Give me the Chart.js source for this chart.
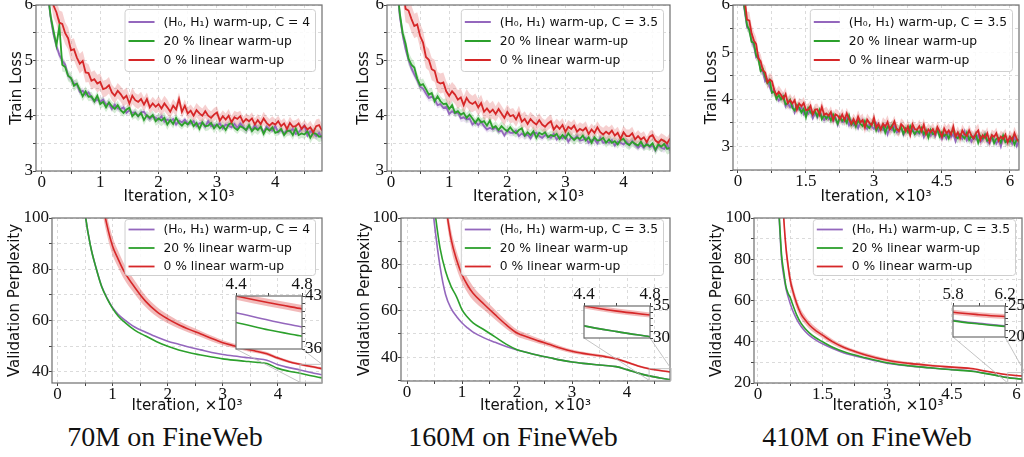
<!DOCTYPE html>
<html>
<head>
<meta charset="utf-8">
<title>Warm-up comparison on FineWeb</title>
<script src="https://cdn.jsdelivr.net/npm/chart.js@4.4.1/dist/chart.umd.min.js"></script>
<style>
  html, body { margin: 0; padding: 0; background: #fff; }
  body { position: relative; width: 1024px; height: 457px; overflow: hidden; }
  .panel { position: absolute; }
  .panel canvas { display: block; }
  .caption { position: absolute; top: 421px; width: 300px; text-align: center;
             font-family: "Liberation Serif", "Times New Roman", serif; font-size: 28px; line-height: 32px; color: #111; }
</style>
</head>
<body>
<div class="caption" style="left:15px">70M on FineWeb</div>
<div class="caption" style="left:363px">160M on FineWeb</div>
<div class="caption" style="left:717px">410M on FineWeb</div>
<script>
// train loss is logged every 50 iterations (x axis in thousands), std every 200
const trainStep = 0.05;
const spreadEvery = 4;

// ---- 70M train loss ----
const lossH0H1_70 = [
  7.55, 7.05, 6.22, 5.78, 5.47, 5.26, 5.10, 4.99, 4.92, 4.72,
  4.67, 4.58, 4.57, 4.43, 4.45, 4.38, 4.42, 4.33, 4.26, 4.29,
  4.25, 4.29, 4.20, 4.22, 4.12, 4.20, 4.13, 4.12, 4.15, 4.05,
  4.10, 4.05, 4.06, 3.99, 4.06, 4.07, 3.99, 3.94, 3.99, 3.96,
  3.93, 3.99, 3.89, 3.93, 3.90, 3.94, 3.84, 3.91, 3.88, 3.93,
  3.85, 3.86, 3.90, 3.81, 3.86, 3.87, 3.80, 3.90, 3.81, 3.83,
  3.82, 3.86, 3.77, 3.84, 3.82, 3.79, 3.85, 3.78, 3.86, 3.80,
  3.74, 3.80, 3.74, 3.83, 3.76, 3.79, 3.70, 3.80, 3.75, 3.73,
  3.81, 3.70, 3.74, 3.68, 3.74, 3.71, 3.76, 3.67, 3.70, 3.76,
  3.82, 3.64, 3.72, 3.69, 3.63, 3.69, 3.59];
const lossWarm20_70 = [
  7.60, 7.10, 6.25, 5.80, 5.53, 5.27, 5.62, 4.92, 4.88, 4.72,
  4.68, 4.54, 4.58, 4.47, 4.35, 4.44, 4.34, 4.35, 4.26, 4.36,
  4.21, 4.25, 4.15, 4.24, 4.17, 4.12, 4.19, 4.10, 4.05, 4.11,
  4.14, 3.99, 4.05, 3.99, 4.05, 3.92, 4.01, 3.96, 4.01, 3.90,
  3.95, 3.91, 3.96, 3.84, 3.92, 3.85, 3.96, 3.87, 3.82, 3.88,
  3.84, 3.91, 3.81, 3.87, 3.76, 3.88, 3.81, 3.82, 3.87, 3.77,
  3.84, 3.77, 3.82, 3.74, 3.84, 3.87, 3.78, 3.74, 3.81, 3.78,
  3.74, 3.83, 3.72, 3.78, 3.74, 3.80, 3.67, 3.77, 3.73, 3.79,
  3.69, 3.71, 3.76, 3.65, 3.72, 3.73, 3.65, 3.77, 3.65, 3.68,
  3.66, 3.72, 3.60, 3.69, 3.67, 3.62, 3.63];
const lossWarm0_70 = [
  7.95, 7.27, 6.72, 6.30, 5.99, 5.87, 5.68, 5.66, 5.49, 5.40,
  5.18, 5.20, 5.05, 4.94, 4.99, 4.78, 4.77, 4.63, 4.66, 4.58,
  4.61, 4.48, 4.50, 4.55, 4.42, 4.36, 4.45, 4.39, 4.31, 4.36,
  4.22, 4.36, 4.28, 4.25, 4.30, 4.20, 4.30, 4.15, 4.22, 4.16,
  4.21, 4.13, 4.22, 4.15, 4.07, 4.18, 4.11, 4.30, 4.07, 4.18,
  4.04, 4.09, 4.00, 4.10, 4.04, 4.00, 4.08, 4.00, 3.96, 4.02,
  4.06, 3.91, 3.99, 3.93, 4.00, 3.88, 3.97, 3.94, 3.99, 3.88,
  3.94, 3.90, 3.95, 3.84, 3.92, 3.85, 3.95, 3.87, 3.82, 3.87,
  3.84, 3.90, 3.81, 3.86, 3.76, 3.87, 3.80, 3.81, 3.86, 3.76,
  3.82, 3.75, 3.79, 3.70, 3.81, 3.83, 3.73];
const spreadH0H1_70 = [0.10, 0.08, 0.07, 0.06, 0.06, 0.07, 0.06, 0.06, 0.05, 0.06, 0.07, 0.06, 0.05,
  0.06, 0.06, 0.05, 0.06, 0.07, 0.06, 0.05, 0.06, 0.06, 0.05, 0.07, 0.06];
const spreadWarm20_70 = [0.14, 0.12, 0.10, 0.09, 0.08, 0.09, 0.08, 0.07, 0.09, 0.08, 0.10, 0.08, 0.07,
  0.08, 0.09, 0.08, 0.07, 0.08, 0.09, 0.08, 0.07, 0.09, 0.08, 0.10, 0.09];
const spreadWarm0_70 = [0.24, 0.22, 0.20, 0.18, 0.16, 0.15, 0.14, 0.15, 0.13, 0.12, 0.14, 0.12, 0.11,
  0.13, 0.12, 0.11, 0.12, 0.10, 0.11, 0.12, 0.10, 0.11, 0.10, 0.12, 0.11];

// ---- 160M train loss ----
const lossH0H1_160 = [
  7.45, 6.95, 6.35, 5.80, 5.45, 5.20, 5.01, 4.86, 4.74, 4.64,
  4.52, 4.49, 4.40, 4.32, 4.34, 4.30, 4.19, 4.21, 4.14, 4.16,
  4.03, 4.08, 4.04, 4.06, 3.95, 3.97, 3.93, 3.95, 3.84, 3.89,
  3.83, 3.89, 3.81, 3.75, 3.78, 3.75, 3.79, 3.71, 3.73, 3.64,
  3.73, 3.69, 3.69, 3.73, 3.63, 3.68, 3.63, 3.66, 3.59, 3.68,
  3.69, 3.63, 3.60, 3.65, 3.63, 3.60, 3.67, 3.57, 3.62, 3.59,
  3.64, 3.53, 3.61, 3.58, 3.63, 3.55, 3.56, 3.60, 3.51, 3.56,
  3.57, 3.50, 3.60, 3.51, 3.53, 3.51, 3.56, 3.46, 3.53, 3.51,
  3.48, 3.53, 3.47, 3.54, 3.47, 3.42, 3.47, 3.42, 3.50, 3.43,
  3.46, 3.37, 3.47, 3.42, 3.40, 3.48, 3.37];
const lossWarm20_160 = [
  7.50, 7.00, 6.40, 5.85, 5.49, 5.30, 5.03, 4.92, 4.87, 4.67,
  4.55, 4.57, 4.48, 4.38, 4.41, 4.26, 4.35, 4.26, 4.21, 4.22,
  4.12, 4.19, 4.05, 4.08, 4.02, 4.05, 3.96, 4.02, 3.95, 3.87,
  3.95, 3.88, 3.90, 3.82, 3.91, 3.78, 3.81, 3.74, 3.81, 3.76,
  3.72, 3.79, 3.72, 3.68, 3.74, 3.77, 3.64, 3.70, 3.65, 3.72,
  3.60, 3.69, 3.66, 3.70, 3.61, 3.65, 3.63, 3.67, 3.58, 3.65,
  3.59, 3.68, 3.61, 3.56, 3.61, 3.58, 3.64, 3.55, 3.61, 3.51,
  3.61, 3.55, 3.56, 3.60, 3.51, 3.57, 3.51, 3.54, 3.48, 3.56,
  3.58, 3.50, 3.47, 3.53, 3.49, 3.46, 3.53, 3.44, 3.48, 3.45,
  3.50, 3.38, 3.48, 3.44, 3.49, 3.40, 3.42];
const lossWarm0_160 = [
  8.50, 7.90, 7.20, 6.70, 6.33, 5.93, 5.90, 5.75, 5.62, 5.65,
  5.44, 5.32, 5.06, 5.01, 4.84, 4.81, 4.61, 4.58, 4.60, 4.44,
  4.36, 4.44, 4.38, 4.29, 4.33, 4.19, 4.32, 4.24, 4.21, 4.25,
  4.15, 4.23, 4.07, 4.13, 4.06, 4.11, 4.03, 4.12, 4.04, 3.96,
  4.07, 3.99, 4.01, 3.93, 4.04, 3.89, 3.94, 3.85, 3.94, 3.88,
  3.84, 3.92, 3.84, 3.80, 3.86, 3.90, 3.75, 3.82, 3.76, 3.83,
  3.71, 3.80, 3.76, 3.82, 3.71, 3.76, 3.73, 3.78, 3.67, 3.75,
  3.69, 3.79, 3.70, 3.66, 3.71, 3.67, 3.73, 3.64, 3.69, 3.58,
  3.70, 3.63, 3.63, 3.68, 3.57, 3.63, 3.57, 3.61, 3.52, 3.62,
  3.65, 3.55, 3.51, 3.57, 3.54, 3.50, 3.59];
const spreadH0H1_160 = [0.10, 0.08, 0.07, 0.07, 0.06, 0.06, 0.07, 0.06, 0.06, 0.05, 0.06, 0.07, 0.06,
  0.06, 0.05, 0.06, 0.06, 0.07, 0.06, 0.06, 0.07, 0.06, 0.06, 0.07, 0.08];
const spreadWarm20_160 = [0.14, 0.12, 0.10, 0.09, 0.09, 0.08, 0.09, 0.08, 0.08, 0.09, 0.08, 0.07, 0.09,
  0.08, 0.08, 0.09, 0.08, 0.08, 0.09, 0.08, 0.09, 0.08, 0.09, 0.10, 0.10];
const spreadWarm0_160 = [0.26, 0.24, 0.22, 0.20, 0.18, 0.17, 0.16, 0.15, 0.16, 0.14, 0.13, 0.14, 0.13,
  0.12, 0.13, 0.12, 0.12, 0.11, 0.12, 0.11, 0.12, 0.11, 0.10, 0.11, 0.10];

// ---- 410M train loss ----
const lossH0H1_410 = [
  7.45, 6.95, 6.15, 5.86, 5.53, 5.49, 5.24, 5.14, 4.89, 4.92,
  4.62, 4.58, 4.38, 4.42, 4.26, 4.14, 4.20, 4.05, 3.97, 4.04,
  4.06, 3.85, 3.92, 3.83, 3.90, 3.72, 3.84, 3.78, 3.84, 3.68,
  3.74, 3.69, 3.76, 3.60, 3.71, 3.62, 3.75, 3.64, 3.56, 3.63,
  3.58, 3.67, 3.54, 3.61, 3.46, 3.61, 3.52, 3.53, 3.60, 3.45,
  3.54, 3.45, 3.50, 3.39, 3.52, 3.55, 3.42, 3.37, 3.47, 3.42,
  3.37, 3.48, 3.33, 3.40, 3.35, 3.43, 3.26, 3.40, 3.35, 3.43,
  3.30, 3.32, 3.39, 3.25, 3.34, 3.36, 3.25, 3.41, 3.26, 3.30,
  3.27, 3.35, 3.20, 3.32, 3.29, 3.23, 3.32, 3.22, 3.35, 3.25,
  3.16, 3.26, 3.17, 3.31, 3.20, 3.26, 3.11, 3.27, 3.20, 3.16,
  3.31, 3.13, 3.20, 3.10, 3.21, 3.15, 3.24, 3.10, 3.15, 3.25,
  3.10, 3.06, 3.19, 3.15, 3.06, 3.16, 3.00, 3.19, 3.11, 3.09,
  3.16, 3.06, 3.20, 3.01, 3.11];
const lossWarm20_410 = [
  7.50, 7.00, 6.20, 5.90, 5.57, 5.47, 5.22, 5.20, 4.93, 4.86,
  4.60, 4.64, 4.48, 4.34, 4.40, 4.14, 4.16, 4.01, 4.09, 4.00,
  4.06, 3.89, 3.92, 3.99, 3.82, 3.76, 3.88, 3.82, 3.72, 3.80,
  3.62, 3.81, 3.72, 3.68, 3.75, 3.64, 3.77, 3.58, 3.66, 3.59,
  3.66, 3.55, 3.68, 3.59, 3.48, 3.63, 3.54, 3.59, 3.50, 3.65,
  3.46, 3.53, 3.42, 3.55, 3.48, 3.43, 3.54, 3.43, 3.39, 3.48,
  3.53, 3.34, 3.43, 3.36, 3.45, 3.29, 3.42, 3.38, 3.45, 3.31,
  3.38, 3.34, 3.41, 3.27, 3.38, 3.30, 3.43, 3.33, 3.26, 3.34,
  3.29, 3.39, 3.26, 3.34, 3.19, 3.35, 3.26, 3.28, 3.35, 3.21,
  3.30, 3.22, 3.27, 3.17, 3.30, 3.34, 3.21, 3.17, 3.26, 3.22,
  3.17, 3.29, 3.14, 3.22, 3.17, 3.25, 3.08, 3.22, 3.17, 3.25,
  3.12, 3.14, 3.21, 3.07, 3.16, 3.18, 3.08, 3.23, 3.09, 3.13,
  3.10, 3.18, 3.04, 3.15, 3.13];
const lossWarm0_410 = [
  7.70, 7.20, 6.45, 6.10, 5.69, 5.67, 5.40, 5.25, 5.17, 4.87,
  4.81, 4.61, 4.57, 4.36, 4.42, 4.38, 4.19, 4.09, 4.16, 4.09,
  4.01, 4.11, 3.92, 3.98, 3.91, 3.98, 3.78, 3.91, 3.85, 3.92,
  3.77, 3.78, 3.86, 3.68, 3.78, 3.79, 3.67, 3.84, 3.67, 3.70,
  3.65, 3.73, 3.56, 3.68, 3.65, 3.58, 3.68, 3.56, 3.70, 3.58,
  3.48, 3.58, 3.48, 3.63, 3.51, 3.56, 3.40, 3.57, 3.50, 3.45,
  3.61, 3.40, 3.48, 3.36, 3.48, 3.42, 3.52, 3.36, 3.42, 3.53,
  3.37, 3.32, 3.47, 3.42, 3.32, 3.43, 3.25, 3.47, 3.37, 3.35,
  3.43, 3.32, 3.46, 3.26, 3.36, 3.30, 3.37, 3.26, 3.41, 3.32,
  3.20, 3.38, 3.28, 3.34, 3.25, 3.42, 3.21, 3.30, 3.18, 3.34,
  3.26, 3.22, 3.34, 3.23, 3.17, 3.28, 3.34, 3.14, 3.24, 3.18,
  3.28, 3.10, 3.24, 3.20, 3.28, 3.12, 3.21, 3.16, 3.25, 3.09,
  3.21, 3.13, 3.28, 3.16, 3.09];
const spreadH0H1_410 = [0.10, 0.09, 0.08, 0.08, 0.07, 0.08, 0.07, 0.08, 0.07, 0.08, 0.07, 0.08, 0.09, 0.08,
  0.07, 0.08, 0.09, 0.08, 0.07, 0.08, 0.08, 0.09, 0.08, 0.07, 0.08, 0.09, 0.08, 0.08, 0.09, 0.08, 0.09, 0.08];
const spreadWarm20_410 = [0.12, 0.11, 0.10, 0.10, 0.09, 0.10, 0.09, 0.10, 0.11, 0.09, 0.10, 0.09, 0.10, 0.11,
  0.10, 0.09, 0.10, 0.11, 0.10, 0.09, 0.10, 0.11, 0.10, 0.09, 0.11, 0.10, 0.10, 0.11, 0.10, 0.11, 0.10, 0.11];
const spreadWarm0_410 = [0.20, 0.18, 0.15, 0.14, 0.13, 0.14, 0.12, 0.13, 0.12, 0.14, 0.12, 0.13, 0.12, 0.14,
  0.13, 0.12, 0.14, 0.12, 0.13, 0.12, 0.14, 0.13, 0.12, 0.15, 0.13, 0.12, 0.14, 0.13, 0.12, 0.13, 0.14, 0.12];

// ---- validation perplexity ----
const pplIter70 = [0.4, 0.5, 0.6, 0.7, 0.8, 0.9, 1.0, 1.1, 1.2, 1.4, 1.6, 1.8, 2.0, 2.2, 2.4, 2.6, 2.8,
  3.0, 3.2, 3.4, 3.6, 3.8, 4.0, 4.2, 4.4, 4.6, 4.8];
const pplH0H1_70 = [125, 102, 89, 80.5, 73.5, 68.8, 65, 62.5, 60.6, 57.5, 55.5, 53.6, 52.0, 50.8, 49.6, 48.6,
  47.6, 46.8, 46.2, 45.7, 45.2, 44.6, 42.8, 41.7, 40.8, 39.8, 38.9];
const pplWarm20_70 = [125, 102, 89, 80.5, 73.3, 68.6, 64.8, 61.8, 59.7, 56.3, 54.0, 51.8, 50.0, 48.6, 47.5,
  46.6, 45.8, 45.1, 44.6, 44.2, 43.8, 43.3, 41.4, 40.3, 39.5, 38.5, 37.7];
const pplWarm0_70 = [190, 165, 145, 125, 108, 97, 89, 84, 79.5, 73, 67.5, 63.5, 60.7, 58.4, 56.5, 54.8, 53,
  51.4, 50.2, 49.1, 48.1, 47.1, 45.4, 44.0, 43.0, 42.1, 41.3];
const pplSpread0_70 = [4, 4, 4, 4, 4, 3.8, 3.5, 3.2, 3.0, 2.6, 2.2, 1.9, 1.7, 1.5, 1.3, 1.2, 1.1, 1.0, 0.9,
  0.8, 0.75, 0.7, 0.6, 0.55, 0.5, 0.5, 0.5];

const pplIter160 = pplIter70;
const pplH0H1_160 = [120, 97, 79, 67, 61, 57.5, 54.7, 52.6, 50.8, 48.3, 46.4, 44.6, 43.1, 41.9, 40.7, 39.7,
  38.7, 37.9, 37.3, 36.8, 36.4, 35.9, 34.6, 33.1, 31.9, 31.0, 30.2];
const pplWarm20_160 = [125, 104, 87, 77, 70.5, 66, 60.4, 57.2, 54.8, 51.8, 48.7, 45.6, 43.2, 41.9, 40.7, 39.7,
  38.7, 37.9, 37.3, 36.8, 36.4, 35.9, 34.6, 33.1, 31.9, 31.0, 30.2];
const pplWarm0_160 = [190, 150, 125, 106, 91, 82, 75.5, 71, 67.5, 62.8, 58.3, 54.0, 50.4, 48.6, 46.9, 45.4,
  43.8, 42.5, 41.6, 40.9, 40.2, 39.3, 37.8, 36.2, 35.0, 34.2, 33.6];
const pplSpread0_160 = [4, 4, 4, 4, 4, 3.8, 3.5, 3.2, 3.0, 2.5, 2.1, 1.8, 1.5, 1.3, 1.1, 1.0, 0.9, 0.8, 0.7,
  0.65, 0.6, 0.55, 0.5, 0.45, 0.4, 0.4, 0.4];

const pplIter410 = [0.4, 0.45, 0.5, 0.55, 0.6, 0.65, 0.7, 0.75, 0.8, 0.9, 1.0, 1.1, 1.2, 1.35, 1.5, 1.75,
  2.0, 2.5, 3.0, 3.5, 4.0, 4.5, 5.0, 5.2, 5.5, 5.8, 6.0, 6.2];
const pplH0H1_410 = [135, 116, 98, 80, 72, 66, 62, 58.5, 55.5, 51, 47.5, 45, 43, 40.8, 39, 36.6, 34.6, 31.9,
  29.6, 28.3, 27.3, 26.5, 25.7, 25.0, 23.9, 22.7, 22.2, 21.8];
const pplWarm20_410 = [135, 116, 99, 82, 74, 67, 63.5, 61.5, 58.5, 53, 49, 46.3, 44.2, 41.8, 40, 37.2, 35.1,
  32.2, 29.8, 28.4, 27.4, 26.4, 25.6, 24.9, 23.8, 22.6, 22.1, 21.7];
const pplWarm0_410 = [200, 170, 145, 120, 100, 86, 77, 70, 65.5, 58.5, 53.5, 50.5, 48, 45.3, 43.2, 39.8, 37.2,
  33.6, 31.0, 29.5, 28.5, 27.7, 26.9, 26.1, 25.0, 24.0, 23.6, 23.3];
const pplSpread0_410 = [5, 5, 5, 5, 4.5, 4, 3.6, 3.2, 2.9, 2.5, 2.2, 2.0, 1.8, 1.6, 1.4, 1.2, 1.0, 0.9, 0.8,
  0.7, 0.6, 0.55, 0.5, 0.5, 0.45, 0.4, 0.4, 0.4];

// ---- ticks, labels ----
const trainXTicks = [0, 1, 2, 3, 4];
const longXTicks = [0, 1.5, 3, 4.5, 6];
const lossYTicks = [3, 4, 5, 6];
const pplYTicks = [40, 60, 80, 100];
const pplYTicks410 = [20, 40, 60, 80, 100];

const labelsC4 = ['(H₀, H₁) warm-up, C = 4', '20 % linear warm-up', '0 % linear warm-up'];
const labelsC35 = ['(H₀, H₁) warm-up, C = 3.5', '20 % linear warm-up', '0 % linear warm-up'];

const zoom70 = { x: [4.4, 4.8], y: [36, 43] };
const zoom160 = { x: [4.4, 4.8], y: [30, 35] };
const zoom410 = { x: [5.8, 6.2], y: [20, 25] };

// ---- style ----
const PURPLE = '#9467bd', GREEN = '#2ca02c', RED = '#d62728';
const SERIF = '"Liberation Serif", "Times New Roman", serif';
const SANS = '"DejaVu Sans", sans-serif';
const LEGEND_FONT = '12.3px "DejaVu Sans"';
Chart.defaults.font.family = SANS;

function halfSteps(major, min, max) {
  const half = (major[1] - major[0]) / 2;
  const out = [];
  for (let k = -1; k <= 2 * (major.length - 1) + 1; k++) {
    const v = +(major[0] + k * half).toFixed(4);
    if (v >= min - 1e-9 && v <= max + 1e-9) out.push(v);
  }
  return out;
}
function stepTicks(from, to, step) {
  const out = [];
  for (let v = from; v <= to + 1e-9; v += step) out.push(+v.toFixed(4));
  return out;
}
const isMajor = (major, v) => major.some(m => Math.abs(m - v) < 1e-6);

// ---- plugins ----
const frame = {
  id: 'frame',
  beforeDraw(chart, args, o) {
    if (!o.white) return;
    const a = chart.chartArea;
    chart.ctx.save();
    chart.ctx.fillStyle = '#fff';
    chart.ctx.fillRect(a.left, a.top, a.right - a.left, a.bottom - a.top);
    chart.ctx.restore();
  },
  afterDatasetsDraw(chart) {
    const { ctx, chartArea: a } = chart;
    ctx.save();
    ctx.strokeStyle = '#6e6e6e';
    ctx.lineWidth = 1.2;
    ctx.strokeRect(a.left, a.top, a.right - a.left, a.bottom - a.top);
    ctx.restore();
  }
};

const zoomMark = {
  id: 'zoomMark',
  afterDatasetsDraw(chart, args, o) {
    if (!o.zoom) return;
    const { ctx, scales: { x, y } } = chart;
    const x0 = x.getPixelForValue(o.zoom.x[0]), x1 = x.getPixelForValue(o.zoom.x[1]);
    const y0 = y.getPixelForValue(o.zoom.y[0]), y1 = y.getPixelForValue(o.zoom.y[1]);
    const bx0 = o.box.l - o.origin.left, bx1 = o.box.r - o.origin.left, by = o.box.b - o.origin.top;
    ctx.save();
    ctx.strokeStyle = '#b5b5b5';
    ctx.lineWidth = 0.8;
    ctx.strokeRect(x0, y1, x1 - x0, y0 - y1);
    ctx.beginPath();
    ctx.moveTo(bx0, by); ctx.lineTo(x0, y0);
    ctx.moveTo(bx1, by); ctx.lineTo(x1, y1);
    ctx.stroke();
    ctx.restore();
  }
};

const legendBox = {
  id: 'legendBox',
  afterDatasetsDraw(chart, args, o) {
    if (!o.labels) return;
    const { ctx, chartArea: a } = chart;
    ctx.save();
    ctx.font = LEGEND_FONT;
    ctx.textAlign = 'left';
    const tw = Math.max(...o.labels.map(t => ctx.measureText(t).width));
    const w = 39 + tw + 5, x = a.right - 7 - w, y = a.top + o.top;
    ctx.beginPath();
    ctx.roundRect(x + 0.5, y + 0.5, w, o.height, 3);
    ctx.fillStyle = 'rgba(255,255,255,0.85)';
    ctx.fill();
    ctx.strokeStyle = '#cfcfcf';
    ctx.lineWidth = 1;
    ctx.stroke();
    o.labels.forEach((lbl, k) => {
      const ds = chart.data.datasets.find(d => d.label === lbl);
      const cy = y + o.first + k * o.gap;
      ctx.strokeStyle = ds.borderColor;
      ctx.lineWidth = o.handle;
      ctx.beginPath(); ctx.moveTo(x + 4, cy); ctx.lineTo(x + 30, cy); ctx.stroke();
      ctx.textBaseline = 'middle';
      ctx.fillStyle = '#111';
      ctx.fillText(lbl, x + 39, cy + 0.5);
    });
    ctx.restore();
  }
};

// ---- dataset builders ----
function trainSeries(labels, means, spreads) {
  const colors = [PURPLE, GREEN, RED];
  const bandColors = ['rgba(148,103,189,0.2)', 'rgba(44,160,44,0.2)', 'rgba(214,39,40,0.22)'];
  const bands = [], lines = [];
  means.forEach((mean, s) => {
    const at = (i, sign) => ({ x: i * trainStep, y: mean[i] + sign * spreads[s][Math.floor(i / spreadEvery)] });
    bands.push({ data: mean.map((v, i) => at(i, -1)), borderWidth: 0, pointRadius: 0, fill: false, order: 5 - s });
    bands.push({ data: mean.map((v, i) => at(i, 1)), borderWidth: 0, pointRadius: 0, fill: '-1',
                 backgroundColor: bandColors[s], order: 5 - s });
    lines.push({ label: labels[s], data: mean.map((v, i) => ({ x: i * trainStep, y: v })),
                 borderColor: colors[s], borderWidth: 1.8, pointRadius: 0, fill: false, order: 2 - s });
  });
  return bands.concat(lines);
}

function pplSeries(labels, iters, vals, redSpread) {
  const colors = [PURPLE, GREEN, RED];
  const smooth = { pointRadius: 0, cubicInterpolationMode: 'monotone', fill: false };
  const red = vals[2];
  const out = [
    { ...smooth, data: iters.map((x, i) => ({ x, y: red[i] - redSpread[i] })), borderWidth: 0, order: 3 },
    { ...smooth, data: iters.map((x, i) => ({ x, y: red[i] + redSpread[i] })), borderWidth: 0, order: 3,
      fill: '-1', backgroundColor: 'rgba(214,39,40,0.32)' }
  ];
  vals.forEach((v, s) => out.push({ ...smooth, label: labels[s], data: iters.map((x, i) => ({ x, y: v[i] })),
    borderColor: colors[s], borderWidth: 1.6, order: 2 - s }));
  return out;
}

// ---- axes / charts ----
function axis(min, max, major, ticks, position, size, title, gridOn) {
  const horizontal = position === 'bottom' || position === 'top';
  return {
    type: 'linear', position, min, max,
    afterBuildTicks: s => { s.ticks = ticks.map(value => ({ value })); },
    afterFit: s => { if (horizontal) s.height = size; else s.width = size; },
    ticks: { autoSkip: false, maxRotation: 0, padding: 0, color: '#111',
             font: { family: SERIF, size: 17, lineHeight: 1 },
             callback: v => isMajor(major, v) ? String(v) : '' },
    grid: { drawOnChartArea: gridOn, color: '#d2d2d2', lineWidth: 0.8, tickLength: 3, tickColor: '#444', tickWidth: 1 },
    border: { display: false, dash: [3, 3] },
    title: title ? { display: true, text: title, color: '#111', padding: 0,
                     font: { family: SANS, size: 15, lineHeight: 1.2 } } : { display: false }
  };
}

function addCanvas(left, top, width, height) {
  const div = document.createElement('div');
  div.className = 'panel';
  div.style.left = left + 'px';
  div.style.top = top + 'px';
  const cv = document.createElement('canvas');
  cv.width = width;
  cv.height = height;
  div.appendChild(cv);
  document.body.appendChild(div);
  return cv;
}

function mainChart(p) {
  const left = p.titleX - 13, top = p.plot.t - 12;
  const width = p.plot.r + 14 - left, height = p.titleY + 12 - top;
  const yw = p.plot.l - left - 4, xh = p.titleY + 9 - p.plot.b;
  const cv = addCanvas(left, top, width, height);
  return new Chart(cv, {
    type: 'line',
    data: { datasets: p.datasets },
    options: {
      responsive: false, animation: false, events: [],
      layout: { padding: { left: 4, top: 12, right: 14, bottom: 3 } },
      elements: { line: { clip: 0 } },
      scales: {
        x: axis(p.x[0], p.x[1], p.xMajor, halfSteps(p.xMajor, p.x[0], p.x[1]), 'bottom', xh, 'Iteration, ×10³', true),
        y: axis(p.y[0], p.y[1], p.yMajor, halfSteps(p.yMajor, p.y[0], p.y[1]), 'left', yw, p.yTitle, true)
      },
      plugins: {
        legend: { display: false }, tooltip: { enabled: false },
        frame: {},
        zoomMark: p.inset ? { zoom: p.inset.zoom, box: p.inset.box, origin: { left, top } } : {},
        legendBox: { labels: p.labels, ...p.legend }
      }
    },
    plugins: [frame, zoomMark, legendBox]
  });
}

function insetChart(box, zoom, datasets) {
  const padL = 12, padB = 10, xh = 24, yw = 30;
  const left = box.l - padL, top = box.t - xh;
  const cv = addCanvas(left, top, box.r - left + yw, box.b - top + padB);
  return new Chart(cv, {
    type: 'line',
    data: { datasets },
    options: {
      responsive: false, animation: false, events: [],
      layout: { padding: { left: padL, top: 0, right: 0, bottom: padB } },
      scales: {
        x: axis(zoom.x[0], zoom.x[1], zoom.x, halfSteps(zoom.x, zoom.x[0], zoom.x[1]), 'top', xh, null, false),
        y: axis(zoom.y[0], zoom.y[1], zoom.y, stepTicks(zoom.y[0], zoom.y[1], 1), 'right', yw, null, false)
      },
      plugins: { legend: { display: false }, tooltip: { enabled: false }, frame: { white: true } }
    },
    plugins: [frame]
  });
}

const topLegend = { top: 4, first: 13, gap: 19, height: 62, handle: 2 };
const bottomLegend = { top: 1, first: 10.5, gap: 18.5, height: 56, handle: 1.8 };

const inset70Box = { l: 236, t: 296, r: 302, b: 349 };
const inset160Box = { l: 584, t: 306, r: 650, b: 338 };
const inset410Box = { l: 953, t: 306, r: 1005, b: 337 };

mainChart({ plot: { l: 36, t: 5, r: 322, b: 171 }, titleX: 17, titleY: 197, x: [-0.1, 4.8], y: [3, 6],
  xMajor: trainXTicks, yMajor: lossYTicks, yTitle: 'Train Loss', labels: labelsC4, legend: topLegend,
  datasets: trainSeries(labelsC4, [lossH0H1_70, lossWarm20_70, lossWarm0_70], [spreadH0H1_70, spreadWarm20_70, spreadWarm0_70]) });
mainChart({ plot: { l: 387, t: 5, r: 670, b: 171 }, titleX: 364, titleY: 197, x: [-0.07, 4.8], y: [3, 6],
  xMajor: trainXTicks, yMajor: lossYTicks, yTitle: 'Train Loss', labels: labelsC35, legend: topLegend,
  datasets: trainSeries(labelsC35, [lossH0H1_160, lossWarm20_160, lossWarm0_160], [spreadH0H1_160, spreadWarm20_160, spreadWarm0_160]) });
mainChart({ plot: { l: 733, t: 5, r: 1019, b: 170 }, titleX: 712, titleY: 197, x: [-0.11, 6.2], y: [2.5, 6],
  xMajor: longXTicks, yMajor: lossYTicks, yTitle: 'Train Loss', labels: labelsC35, legend: topLegend,
  datasets: trainSeries(labelsC35, [lossH0H1_410, lossWarm20_410, lossWarm0_410], [spreadH0H1_410, spreadWarm20_410, spreadWarm0_410]) });

mainChart({ plot: { l: 52, t: 218, r: 322, b: 383 }, titleX: 15, titleY: 406, x: [-0.1, 4.8], y: [35.7, 100],
  xMajor: trainXTicks, yMajor: pplYTicks, yTitle: 'Validation Perplexity', labels: labelsC4, legend: bottomLegend,
  inset: { zoom: zoom70, box: inset70Box },
  datasets: pplSeries(labelsC4, pplIter70, [pplH0H1_70, pplWarm20_70, pplWarm0_70], pplSpread0_70) });
mainChart({ plot: { l: 401, t: 218, r: 670, b: 381 }, titleX: 365, titleY: 406, x: [-0.11, 4.78], y: [29.7, 100],
  xMajor: trainXTicks, yMajor: pplYTicks, yTitle: 'Validation Perplexity', labels: labelsC35, legend: bottomLegend,
  inset: { zoom: zoom160, box: inset160Box },
  datasets: pplSeries(labelsC35, pplIter160, [pplH0H1_160, pplWarm20_160, pplWarm0_160], pplSpread0_160) });
mainChart({ plot: { l: 754, t: 218, r: 1022, b: 383 }, titleX: 717, titleY: 406, x: [-0.09, 6.13], y: [20, 100],
  xMajor: longXTicks, yMajor: pplYTicks410, yTitle: 'Validation Perplexity', labels: labelsC35, legend: bottomLegend,
  inset: { zoom: zoom410, box: inset410Box },
  datasets: pplSeries(labelsC35, pplIter410, [pplH0H1_410, pplWarm20_410, pplWarm0_410], pplSpread0_410) });

insetChart(inset70Box, zoom70, pplSeries(labelsC4, pplIter70, [pplH0H1_70, pplWarm20_70, pplWarm0_70], pplSpread0_70));
insetChart(inset160Box, zoom160, pplSeries(labelsC35, pplIter160, [pplH0H1_160, pplWarm20_160, pplWarm0_160], pplSpread0_160));
insetChart(inset410Box, zoom410, pplSeries(labelsC35, pplIter410, [pplH0H1_410, pplWarm20_410, pplWarm0_410], pplSpread0_410));
</script>
</body>
</html>
